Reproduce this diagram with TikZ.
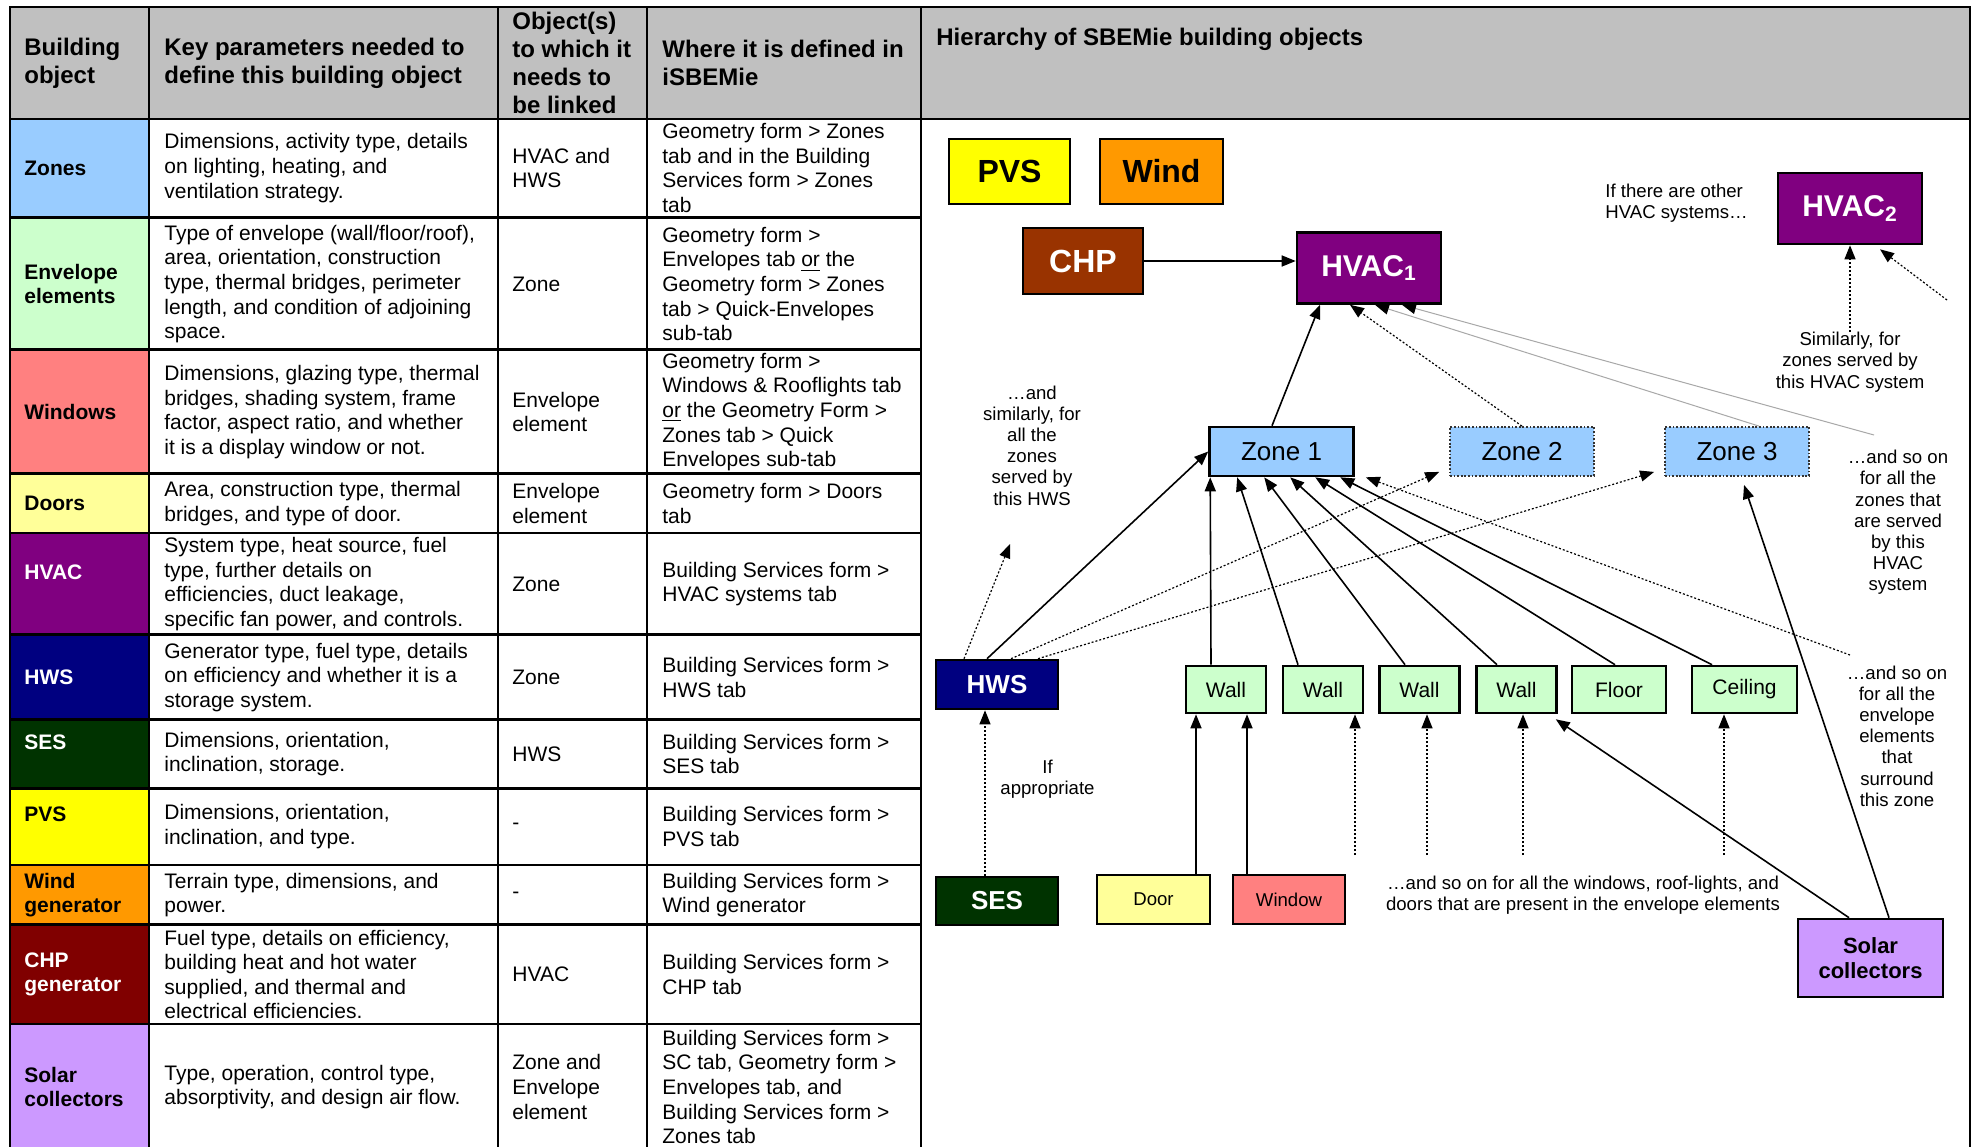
\documentclass[tikz,border=0pt]{standalone}
\usepackage{fontspec}
\setmainfont{Liberation Sans}
\usetikzlibrary{arrows.meta,calc}
\definecolor{hdrgray}{HTML}{C0C0C0}
\definecolor{czone}{HTML}{99CCFF}
\definecolor{cenv}{HTML}{CCFFCC}
\definecolor{cwin}{HTML}{FF8080}
\definecolor{cdoor}{HTML}{FFFF99}
\definecolor{chvac}{HTML}{800080}
\definecolor{chws}{HTML}{000080}
\definecolor{cses}{HTML}{003300}
\definecolor{cpvs}{HTML}{FFFF00}
\definecolor{cwind}{HTML}{FF9900}
\definecolor{cchpt}{HTML}{800000}
\definecolor{cchp}{HTML}{993300}
\definecolor{csolar}{HTML}{CC99FF}
\definecolor{gline}{HTML}{A8A8A8}
\begin{document}
\begin{tikzpicture}[x=0.5pt,y=-0.5pt,
  tline/.style={line width=1.3pt,line cap=rect},
  tcell/.style={anchor=west,align=left,inner sep=0pt,font=\fontsize{10.5}{12.3}\selectfont},
  tlab/.style={anchor=west,align=left,inner sep=0pt,font=\bfseries\fontsize{10.5}{12.3}\selectfont},
  thead/.style={anchor=west,align=left,inner sep=0pt,font=\bfseries\fontsize{12}{13.9}\selectfont},
  box/.style={draw=black,line width=1.3pt,inner sep=0pt,align=center},
  bigbox/.style={box,font=\bfseries\fontsize{16}{18}\selectfont},
  hvbox/.style={box,fill=chvac,text=white,minimum width=72pt,minimum height=35.5pt,font=\bfseries\fontsize{15}{18}\selectfont},
  zonebox/.style={box,fill=czone,minimum width=72pt,minimum height=24.5pt,font=\fontsize{13}{15}\selectfont},
  dzone/.style={zonebox,draw=black!80,line width=0.9pt,dash pattern=on 0.9pt off 0.9pt},
  smbox/.style={box,fill=cenv,minimum height=23.5pt,font=\fontsize{10.5}{12}\selectfont},
  dwbox/.style={box,minimum width=56.5pt,minimum height=24.5pt,font=\fontsize{9.3}{11}\selectfont},
  darkbox/.style={box,text=white,minimum width=61pt,minimum height=24.5pt,font=\bfseries\fontsize{13}{15}\selectfont},
  ann/.style={align=center,inner sep=0pt,font=\fontsize{9.3}{10.6}\selectfont},
  sarrow/.style={-{Triangle[length=7pt,width=5.5pt]},line width=0.8pt},
  darrow/.style={-{Triangle[length=7pt,width=5.5pt]},line width=0.6pt,dash pattern=on 1pt off 1pt},
  garrow/.style={-{Triangle[length=7pt,width=5.5pt,color=black,fill=black]},draw=gline,line width=0.5pt}
]
\useasboundingbox (0,0) rectangle (1979,1146);
\clip (0,0) rectangle (1979,1146);
\fill[white] (0,0) rectangle (1979,1146);
% ---------- table fills ----------
\fill[hdrgray] (10,7) rectangle (1970,119);
\fill[czone]  (10,119) rectangle (149,217.5);
\fill[cenv]   (10,217.5) rectangle (149,349.5);
\fill[cwin]   (10,349.5) rectangle (149,473.5);
\fill[cdoor]  (10,473.5) rectangle (149,533);
\fill[chvac]  (10,533) rectangle (149,634.5);
\fill[chws]   (10,634.5) rectangle (149,719.5);
\fill[cses]   (10,719.5) rectangle (149,788.5);
\fill[cpvs]   (10,788.5) rectangle (149,865);
\fill[cwind]  (10,865) rectangle (149,924.5);
\fill[cchpt]  (10,924.5) rectangle (149,1024);
\fill[csolar] (10,1024) rectangle (149,1160);
% ---------- table lines ----------
\draw[tline] (10,7) -- (1970,7);
\draw[tline] (10,119) -- (1970,119);
\foreach \yy in {217.5,349.5,473.5,533,634.5,719.5,788.5,865,924.5,1024}
  \draw[tline] (10,\yy) -- (921,\yy);
\foreach \xx in {10,149,498,647,921,1970}
  \draw[tline] (\xx,7) -- (\xx,1160);
% ---------- header ----------
\node[thead] (h1) at (24,63) {Building\\object};
\node[thead] (h2) at (164,63) {Key parameters needed to\\define this building object};
\node[thead] (h3) at (512,63) {Object(s)\\to which it\\needs to\\be linked};
\node[thead] (h4) at (662,63) {Where it is defined in\\iSBEMie};
\node[thead] (h5) at (936,39) {Hierarchy of SBEMie building objects};
% ---------- rows ----------
% Zones
\node[tlab] (r1a) at (24,168) {Zones};
\node[tcell] (r1b) at (164,168) {Dimensions, activity type, details\\on lighting, heating, and\\ventilation strategy.};
\node[tcell] (r1c) at (512,168) {HVAC and\\HWS};
\node[tcell] (r1d) at (662,168) {Geometry form > Zones\\tab and in the Building\\Services form > Zones\\tab};
% Envelope
\node[tlab] (r2a) at (24,284) {Envelope\\elements};
\node[tcell] (r2b) at (164,284) {Type of envelope (wall/floor/roof),\\area, orientation, construction\\type, thermal bridges, perimeter\\length, and condition of adjoining\\space.};
\node[tcell] (r2c) at (512,284) {Zone};
\node[tcell] (r2d) at (662,284) {Geometry form >\\Envelopes tab \underline{or} the\\Geometry form > Zones\\tab > Quick-Envelopes\\sub-tab};
% Windows
\node[tlab] (r3a) at (24,412) {Windows};
\node[tcell] (r3b) at (164,412) {Dimensions, glazing type, thermal\\bridges, shading system, frame\\factor, aspect ratio, and whether\\it is a display window or not.};
\node[tcell] (r3c) at (512,412) {Envelope\\element};
\node[tcell] (r3d) at (662,412) {Geometry form >\\Windows \& Rooflights tab\\\underline{or} the Geometry Form >\\Zones tab > Quick\\Envelopes sub-tab};
% Doors
\node[tlab] (r4a) at (24,503.5) {Doors};
\node[tcell] (r4b) at (164,503.5) {Area, construction type, thermal\\bridges, and type of door.};
\node[tcell] (r4c) at (512,503.5) {Envelope\\element};
\node[tcell] (r4d) at (662,503.5) {Geometry form > Doors\\tab};
% HVAC
\node[tlab,text=white] (r5a) at (24,572) {HVAC};
\node[tcell] (r5b) at (164,584) {System type, heat source, fuel\\type, further details on\\efficiencies, duct leakage,\\specific fan power, and controls.};
\node[tcell] (r5c) at (512,584) {Zone};
\node[tcell] (r5d) at (662,584) {Building Services form >\\HVAC systems tab};
% HWS
\node[tlab,text=white] (r6a) at (24,677.5) {HWS};
\node[tcell] (r6b) at (164,677.5) {Generator type, fuel type, details\\on efficiency and whether it is a\\storage system.};
\node[tcell] (r6c) at (512,677.5) {Zone};
\node[tcell] (r6d) at (662,677.5) {Building Services form >\\HWS tab};
% SES
\node[tlab,text=white] (r7a) at (24,742) {SES};
\node[tcell] (r7b) at (164,754) {Dimensions, orientation,\\inclination, storage.};
\node[tcell] (r7c) at (512,754) {HWS};
\node[tcell] (r7d) at (662,754) {Building Services form >\\SES tab};
% PVS
\node[tlab] (r8a) at (24,814.5) {PVS};
\node[tcell] (r8b) at (164,826.5) {Dimensions, orientation,\\inclination, and type.};
\node[tcell] (r8c) at (512,826.5) {-};
\node[tcell] (r8d) at (662,826.5) {Building Services form >\\PVS tab};
% Wind
\node[tlab] (r9a) at (24,895) {Wind\\generator};
\node[tcell] (r9b) at (164,895) {Terrain type, dimensions, and\\power.};
\node[tcell] (r9c) at (512,895) {-};
\node[tcell] (r9d) at (662,895) {Building Services form >\\Wind generator};
% CHP
\node[tlab,text=white] (r10a) at (24,974.5) {CHP\\generator};
\node[tcell] (r10b) at (164,974.5) {Fuel type, details on efficiency,\\building heat and hot water\\supplied, and thermal and\\electrical efficiencies.};
\node[tcell] (r10c) at (512,974.5) {HVAC};
\node[tcell] (r10d) at (662,974.5) {Building Services form >\\CHP tab};
% Solar
\node[tlab] (r11a) at (24,1087) {Solar\\collectors};
\node[tcell] (r11b) at (164,1087) {Type, operation, control type,\\absorptivity, and design air flow.};
\node[tcell] (r11c) at (512,1087) {Zone and\\Envelope\\element};
\node[tcell] (r11d) at (662,1087) {Building Services form >\\SC tab, Geometry form >\\Envelopes tab, and\\Building Services form >\\Zones tab};
% ---------- hierarchy diagram ----------
\node[bigbox,fill=cpvs,minimum width=60.5pt,minimum height=32.5pt] (pvs) at (1009.5,171.5) {PVS};
\node[bigbox,fill=cwind,minimum width=61.5pt,minimum height=32.5pt] (wind) at (1161.5,171.5) {Wind};
\node[bigbox,fill=cchp,text=white,minimum width=60pt,minimum height=33pt] (chp) at (1083,261) {CHP};
\node[hvbox] (hvac1) at (1369,268) {HVAC\textsubscript{1}};
\node[hvbox] (hvac2) at (1850,208.5) {HVAC\textsubscript{2}};
\node[zonebox] (zone1) at (1281.5,451.5) {Zone 1};
\node[dzone] (zone2) at (1522,451.5) {Zone 2};
\node[dzone] (zone3) at (1737,451.5) {Zone 3};
\node[darkbox,fill=chws] (hws) at (997,684.5) {HWS};
\node[smbox,minimum width=40pt] (wall1) at (1226,689.5) {Wall};
\node[smbox,minimum width=40pt] (wall2) at (1323,689.5) {Wall};
\node[smbox,minimum width=40pt] (wall3) at (1419.5,689.5) {Wall};
\node[smbox,minimum width=40pt] (wall4) at (1516.5,689.5) {Wall};
\node[smbox,minimum width=47pt] (floor) at (1619,689.5) {Floor};
\node[smbox,minimum width=52.5pt] (ceiling) at (1744.5,689.5) {Ceiling};
\node[darkbox,fill=cses,minimum height=24pt] (ses) at (997,901) {SES};
\node[dwbox,fill=cdoor] (door) at (1153.5,899.5) {Door};
\node[dwbox,fill=cwin,minimum width=56pt] (window) at (1289,899.5) {Window};
\node[box,fill=csolar,minimum width=72.5pt,minimum height=39pt,font=\bfseries\fontsize{11}{12.6}\selectfont] (solar) at (1870.5,958) {Solar\\collectors};
% annotations
\node[ann,anchor=west,align=left] (annOther) at (1605,203) {If there are other\\HVAC systems…};
\node[ann] (annSim) at (1850,362) {Similarly, for\\zones served by\\this HVAC system};
\node[ann] (annHWS) at (1032,445.5) {…and\\similarly, for\\all the\\zones\\served by\\this HWS};
\node[ann] (annZones) at (1898,522.5) {…and so on\\for all the\\zones that\\are served\\by this\\HVAC\\system};
\node[ann] (annEnv) at (1897,736) {…and so on\\for all the\\envelope\\elements\\that\\surround\\this zone};
\node[ann] (annApp) at (1047.5,779) {If\\appropriate};
\node[ann] (annWin) at (1583,895) {…and so on for all the windows, roof-lights, and\\doors that are present in the envelope elements};
% free ends
\coordinate (beyond) at (1874,435);
\coordinate (h2free) at (1947,300);
\coordinate (hwsfree) at (1010,544);
\coordinate (envfree) at (1850,655);
\coordinate (d2) at (1355,855);
\coordinate (d3) at (1427,855);
\coordinate (d4) at (1523,855);
\coordinate (d6) at (1724,855);
% connectors
\draw[sarrow] (chp.east) -- (chp.east -| hvac1.west);
\draw[garrow] ($(zone3.north)+(22,0)$) -- ($(hvac1.south)+(6,0)$);
\draw[garrow] (beyond) -- ($(hvac1.south)+(33,0)$);
\draw[sarrow] ($(zone1.north)+(-9.5,0)$) -- ($(hvac1.south)+(-49,0)$);
\draw[darrow] (zone2.north) -- ($(hvac1.south)+(-19,0)$);
\draw[darrow] (annSim.north) -- (annSim.north |- hvac2.south);
\draw[darrow] (h2free) -- ($(hvac2.south)+(30,4)$);
\draw[darrow] ($(hws.north)+(-33,0)$) -- (hwsfree);
\draw[sarrow] ($(hws.north)+(-10,0)$) -- (zone1.west);
\draw[darrow] ($(hws.north)+(14,0)$) -- ($(zone2.south west)+(-10,-5)$);
\draw[darrow] ($(hws.north)+(41,0)$) -- ($(zone3.south west)+(-10,-5)$);
\draw[sarrow] ($(wall1.north)+(-15,0)$) -- ($(zone1.south west)+(2,0)$);
\draw[sarrow] ($(wall2.north)+(-25,0)$) -- ($(zone1.south west)+(29,0)$);
\draw[sarrow] ($(wall3.north)+(-14.5,0)$) -- ($(zone1.south west)+(56,0)$);
\draw[sarrow] ($(wall4.north)+(-19.5,0)$) -- ($(zone1.south west)+(82,0)$);
\draw[sarrow] ($(floor.north)+(-4,0)$) -- ($(zone1.south west)+(107,0)$);
\draw[sarrow] ($(ceiling.north)+(-32.5,0)$) -- ($(zone1.south west)+(132,0)$);
\draw[darrow] (envfree) -- ($(zone1.south east)+(11,0)$);
\draw[sarrow] ($(solar.north)+(18.5,0)$) -- ($(zone3.south)+(7,8)$);
\draw[sarrow] ($(solar.north)+(-21.5,0)$) -- ($(wall4.south east)+(-2,5)$);
\draw[darrow] ($(ses.north)+(-12,0)$) -- ($(hws.south)+(-12,0)$);
\draw[sarrow] ($(door.north)+(42.5,0)$) -- ($(wall1.south)+(-30,0)$);
\draw[sarrow] ($(window.north)+(-42,0)$) -- ($(wall1.south)+(21,0)$);
\draw[darrow] (d2) -- (d2 |- wall2.south);
\draw[darrow] (d3) -- (d3 |- wall3.south);
\draw[darrow] (d4) -- (d4 |- wall4.south);
\draw[darrow] (d6) -- (d6 |- ceiling.south);
\end{tikzpicture}
\end{document}
